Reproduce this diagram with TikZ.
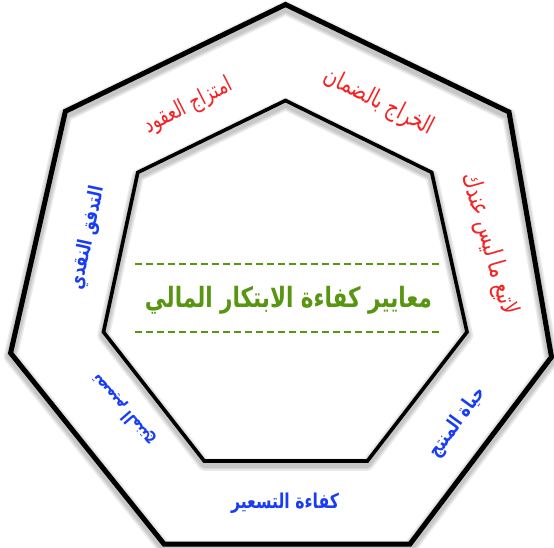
\documentclass[tikz,border=0pt]{standalone}
\usepackage{fontspec}
\usepackage{graphicx}
\TeXXeTstate=1
\newfontfamily\arabicfont[Script=Arabic]{DejaVu Sans}
\definecolor{critred}{RGB}{245,35,35}
\definecolor{critblue}{RGB}{25,60,245}
\definecolor{critgreen}{RGB}{88,150,18}
\newcommand{\artxt}[2]{\resizebox{#1pt}{!}{\scalebox{1}[1.3]{#2}}}
\def\outerpath{(285.5,4.5) -- (509,112) -- (551.5,357) -- (410,544) -- (164,544) -- (10.6,353) -- (65.4,111.3) -- cycle}
\def\innerpath{(285.5,100.5) -- (431.7,172.4) -- (467,332) -- (367.4,461) -- (204.2,461) -- (103.5,332) -- (137.8,172.4) -- cycle}
\tikzset{
  ring/.style={draw=black, line width=5pt, line join=miter},
  innerring/.style={draw=black, line width=3.6pt, line join=miter},
  glow/.style={draw=black, opacity=0.08, line join=round},
  redlabel/.style={text=critred, inner sep=0pt},
  bluelabel/.style={text=critblue, inner sep=0pt},
  titlelabel/.style={text=critgreen, inner sep=0pt},
  divider/.style={draw=critgreen, line width=1.8pt, dash pattern=on 6.5pt off 4.5pt}
}
\begin{document}
\begin{tikzpicture}[x=1pt,y=-1pt]
\fill[white] (0,0) rectangle (554,547);
\useasboundingbox (0,0) rectangle (554,547);
% soft shadows
\begin{scope}[yshift=-3.5pt]
  \foreach \w in {14,11,8}{
    \draw[glow, line width=\w pt] \outerpath;
    \draw[glow, line width=\w pt-1.5pt] \innerpath;
  }
\end{scope}
% heptagons
\draw[ring] \outerpath;
\draw[innerring] \innerpath;
% dividers
\coordinate (d1a) at (135,264);
\coordinate (d1b) at (440,264);
\coordinate (d2a) at (135,332);
\coordinate (d2b) at (440,332);
\draw[divider] (d1a) -- (d1b);
\draw[divider] (d2a) -- (d2b);
% title
\node[titlelabel] (title) at (288.5,300) {\artxt{287}{\arabicfont\bfseries\beginR معايير كفاءة الابتكار المالي\endR}};
% red criteria
\node[redlabel, rotate=27] (c1) at (188.5,106) {\artxt{96}{\arabicfont\beginR امتزاج العقود\endR}};
\node[redlabel, rotate=-27] (c2) at (379,102.5) {\artxt{120}{\arabicfont\beginR الخراج بالضمان\endR}};
\node[redlabel, rotate=-74] (c3) at (489,244) {\artxt{147}{\arabicfont\beginR لاتبع ما ليس عندك\endR}};
% blue criteria
\node[bluelabel, rotate=78] (c4) at (88,238) {\artxt{105}{\arabicfont\bfseries\beginR التدفق النقدي\endR}};
\node[bluelabel, rotate=131] (c5) at (123.5,410) {\artxt{88}{\arabicfont\bfseries\beginR تصميم المنتج\endR}};
\node[bluelabel, rotate=54] (c6) at (457.5,422.5) {\artxt{82}{\arabicfont\bfseries\beginR حياة المنتج\endR}};
\node[bluelabel] (c7) at (285,503) {\artxt{108}{\arabicfont\bfseries\beginR كفاءة التسعير\endR}};
\end{tikzpicture}
\end{document}
